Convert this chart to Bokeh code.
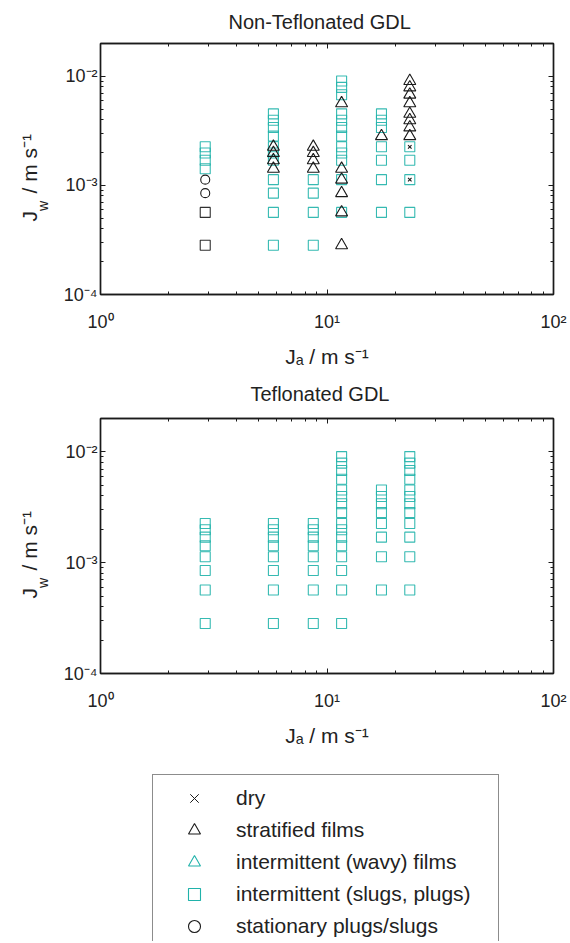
from bokeh.plotting import figure
from bokeh.models import (Range1d, LogAxis, FixedTicker, Legend, LegendItem, Title,
                          CustomJSTickFormatter)
from bokeh.layouts import column
from bokeh.embed import file_html
from bokeh.resources import INLINE

# ---------------- data ----------------
# Non-Teflonated GDL
nt_slug_ja = [2.9, 2.9, 2.9, 2.9,
              5.8, 5.8, 5.8, 5.8, 5.8, 5.8, 5.8, 5.8, 5.8, 5.8, 5.8,
              8.7, 8.7, 8.7, 8.7,
              11.6, 11.6, 11.6, 11.6, 11.6, 11.6, 11.6, 11.6, 11.6, 11.6, 11.6, 11.6,
              17.4, 17.4, 17.4, 17.4, 17.4, 17.4, 17.4,
              23.2, 23.2, 23.2, 23.2]
nt_slug_jw = [1.42e-3, 1.70e-3, 1.98e-3, 2.26e-3,
              2.83e-4, 5.66e-4, 8.49e-4, 1.13e-3, 1.70e-3, 1.98e-3, 2.26e-3, 2.83e-3, 3.40e-3, 3.96e-3, 4.53e-3,
              2.83e-4, 5.66e-4, 8.49e-4, 1.13e-3,
              5.66e-4, 1.13e-3, 1.70e-3, 1.98e-3, 2.26e-3, 2.83e-3, 3.40e-3, 3.96e-3, 4.53e-3, 6.79e-3, 7.92e-3, 9.06e-3,
              5.66e-4, 1.13e-3, 1.70e-3, 2.26e-3, 3.40e-3, 3.96e-3, 4.53e-3,
              5.66e-4, 1.13e-3, 1.70e-3, 2.26e-3]

nt_strat_ja = [5.8, 5.8, 5.8, 5.8,
               8.7, 8.7, 8.7, 8.7,
               11.6, 11.6, 11.6, 11.6, 11.6, 11.6,
               17.4,
               23.2, 23.2, 23.2, 23.2, 23.2, 23.2, 23.2, 23.2]
nt_strat_jw = [1.42e-3, 1.70e-3, 1.98e-3, 2.26e-3,
               1.42e-3, 1.70e-3, 1.98e-3, 2.26e-3,
               2.83e-4, 5.66e-4, 8.49e-4, 1.13e-3, 1.42e-3, 5.66e-3,
               2.83e-3,
               2.83e-3, 3.40e-3, 3.96e-3, 4.53e-3, 5.66e-3, 6.79e-3, 7.92e-3, 9.06e-3]

nt_dry_ja = [23.2, 23.2]
nt_dry_jw = [2.26e-3, 1.13e-3]

nt_stat_ja = [2.9, 2.9]
nt_stat_jw = [8.49e-4, 1.13e-3]

nt_black_sq_ja = [2.9, 2.9]
nt_black_sq_jw = [2.83e-4, 5.66e-4]

# Teflonated GDL
t_slug_ja = [2.9, 2.9, 2.9, 2.9, 2.9, 2.9, 2.9, 2.9,
             5.8, 5.8, 5.8, 5.8, 5.8, 5.8, 5.8, 5.8,
             8.7, 8.7, 8.7, 8.7, 8.7, 8.7, 8.7, 8.7,
             11.6, 11.6, 11.6, 11.6, 11.6, 11.6, 11.6, 11.6,
             11.6, 11.6, 11.6, 11.6, 11.6, 11.6, 11.6, 11.6,
             17.4, 17.4, 17.4, 17.4, 17.4, 17.4, 17.4, 17.4,
             23.2, 23.2, 23.2, 23.2, 23.2, 23.2, 23.2, 23.2, 23.2, 23.2, 23.2, 23.2]
t_slug_jw = [2.83e-4, 5.66e-4, 8.49e-4, 1.13e-3, 1.42e-3, 1.70e-3, 1.98e-3, 2.26e-3,
             2.83e-4, 5.66e-4, 8.49e-4, 1.13e-3, 1.42e-3, 1.70e-3, 1.98e-3, 2.26e-3,
             2.83e-4, 5.66e-4, 8.49e-4, 1.13e-3, 1.42e-3, 1.70e-3, 1.98e-3, 2.26e-3,
             2.83e-4, 5.66e-4, 8.49e-4, 1.13e-3, 1.42e-3, 1.70e-3, 1.98e-3, 2.26e-3,
             2.83e-3, 3.40e-3, 3.96e-3, 4.53e-3, 5.66e-3, 6.79e-3, 7.92e-3, 9.06e-3,
             5.66e-4, 1.13e-3, 1.70e-3, 2.26e-3, 2.83e-3, 3.40e-3, 3.96e-3, 4.53e-3,
             5.66e-4, 1.13e-3, 1.70e-3, 2.26e-3, 2.83e-3, 3.40e-3, 3.96e-3, 4.53e-3,
             5.66e-3, 6.79e-3, 7.92e-3, 9.06e-3]

x_ticks = [1, 10, 100]
x_minor = [2, 3, 4, 5, 6, 7, 8, 9, 20, 30, 40, 50, 60, 70, 80, 90]
x_tick_labels = ["10\u2070", "10\u00b9", "10\u00b2"]
y_ticks = [1e-4, 1e-3, 1e-2]
y_minor = [2e-4, 3e-4, 4e-4, 5e-4, 6e-4, 7e-4, 8e-4, 9e-4,
           2e-3, 3e-3, 4e-3, 5e-3, 6e-3, 7e-3, 8e-3, 9e-3, 2e-2]
y_tick_labels = ["10\u207b\u2074", "10\u207b\u00b3", "10\u207b\u00b2"]

legend_labels = ["dry", "stratified films", "intermittent (wavy) films",
                 "intermittent (slugs, plugs)", "stationary plugs/slugs"]
titles = ["Non-Teflonated GDL", "Teflonated GDL"]
x_label = "J\u2090 / m s\u207b\u00b9"
y_label_main = "J\u00a0\u00a0\u00a0/ m s\u207b\u00b9"
y_label_sub = "w"

# ---------------- style ----------------
FONT = "Liberation Sans"
CYAN = "#20b2aa"
BLACK = "#1a1a1a"
TXT = "#222222"
NBSP = "\u00a0"

FMT_CODE = """
for (let i = 0; i < ticks_list.length; i++) {
    if (Math.abs(Math.log10(ticks_list[i]) - Math.log10(tick)) < 1e-6) { return labels[i]; }
}
return "";
"""


def style_axis(ax, xdir, show_labels):
    ax.ticker = FixedTicker(ticks=x_ticks if xdir else y_ticks,
                            minor_ticks=x_minor if xdir else y_minor)
    ax.formatter = CustomJSTickFormatter(
        args=dict(ticks_list=x_ticks if xdir else y_ticks,
                  labels=x_tick_labels if xdir else y_tick_labels),
        code=FMT_CODE)
    ax.axis_line_color = BLACK
    ax.axis_line_width = 1.4
    ax.major_tick_line_color = BLACK
    ax.minor_tick_line_color = BLACK
    ax.major_tick_in = 5
    ax.major_tick_out = 0
    ax.minor_tick_in = 3
    ax.minor_tick_out = 0
    ax.major_label_text_font = FONT
    ax.major_label_text_color = TXT
    ax.axis_label_text_font = FONT
    ax.axis_label_text_font_style = "normal"
    ax.axis_label_text_color = TXT
    if show_labels:
        ax.major_label_text_font_size = "18px"
        ax.major_label_standoff = 17 if xdir else 3
    else:
        ax.major_label_text_font_size = "1px"
        ax.major_label_text_alpha = 0
        ax.major_label_standoff = 0


def make_panel(height, border_top, border_bottom, title, title_offset, title_standoff):
    p = figure(width=570, height=height, x_axis_type="log", y_axis_type="log",
               x_range=Range1d(1, 100), y_range=Range1d(1e-4, 2e-2),
               min_border_left=100, min_border_right=17,
               min_border_top=border_top, min_border_bottom=border_bottom,
               toolbar_location=None, output_backend="svg")
    p.xgrid.visible = False
    p.ygrid.visible = False
    p.outline_line_color = BLACK
    p.outline_line_width = 1.4
    p.background_fill_color = "white"
    p.border_fill_color = "white"
    bottom_ax = p.below[0]
    left_ax = p.left[0]
    style_axis(bottom_ax, True, True)
    style_axis(left_ax, False, True)
    top_ax = LogAxis()
    right_ax = LogAxis()
    p.add_layout(top_ax, "above")
    p.add_layout(right_ax, "right")
    style_axis(top_ax, True, False)
    style_axis(right_ax, False, False)

    p.title = Title(text=title, align="left", offset=title_offset,
                    vertical_align="top", standoff=title_standoff,
                    text_font=FONT, text_font_size="20px", text_font_style="normal",
                    text_color=TXT)

    # x axis label
    bottom_ax.axis_label = x_label
    bottom_ax.axis_label_text_font_size = "21px"
    bottom_ax.axis_label_standoff = 10

    # y axis label: subscript as the axis label, main text as a side title
    left_ax.axis_label = y_label_sub + NBSP * 19
    left_ax.axis_label_text_font_size = "14px"
    left_ax.axis_label_standoff = 10
    p.add_layout(Title(text=y_label_main + NBSP * 3, align="center", vertical_align="bottom",
                       standoff=-18, text_font=FONT, text_font_size="21px",
                       text_font_style="normal", text_color=TXT), "left")
    return p


def squares(p, xs, ys, color):
    return p.scatter(xs, ys, marker="square", size=10, fill_alpha=0,
                     line_color=color, line_width=1.1, line_alpha=0.9)


# ---------------- top panel ----------------
p1 = make_panel(370, 43, 72, titles[0], 128, 18)
squares(p1, nt_slug_ja, nt_slug_jw, CYAN)
squares(p1, nt_black_sq_ja, nt_black_sq_jw, BLACK)
p1.scatter(nt_stat_ja, nt_stat_jw, marker="circle", size=9, fill_alpha=0,
           line_color=BLACK, line_width=1.1)
p1.scatter(nt_strat_ja, nt_strat_jw, marker="triangle", size=12, fill_alpha=0,
           line_color=BLACK, line_width=1.1)
p1.scatter(nt_dry_ja, nt_dry_jw, marker="x", size=5, line_color=BLACK, line_width=1.1)

# ---------------- bottom panel ----------------
p2 = make_panel(382, 48, 79, titles[1], 150, 23)
squares(p2, t_slug_ja, t_slug_jw, CYAN)

# ---------------- legend ----------------
pl = figure(width=570, height=189, x_range=(0, 1), y_range=(0, 1),
            x_axis_location=None, y_axis_location=None,
            min_border_left=100, min_border_right=17, min_border_top=0, min_border_bottom=0,
            toolbar_location=None, output_backend="svg")
pl.xgrid.visible = False
pl.ygrid.visible = False
pl.outline_line_color = None
out = dict(x=[5], y=[5])   # outside the (hidden) range: only the legend shows them
r_dry = pl.scatter(out["x"], out["y"], marker="x", line_color=BLACK, line_width=1.0)
r_strat = pl.scatter(out["x"], out["y"], marker="triangle", fill_alpha=0, line_color=BLACK, line_width=1.1)
r_wavy = pl.scatter(out["x"], out["y"], marker="triangle", fill_alpha=0, line_color=CYAN, line_width=1.1)
r_slug = pl.scatter(out["x"], out["y"], marker="square", fill_alpha=0, line_color=CYAN, line_width=1.1)
r_stat = pl.scatter(out["x"], out["y"], marker="circle", fill_alpha=0, line_color=BLACK, line_width=1.1)
items = [LegendItem(label=lab, renderers=[r]) for lab, r in
         zip(legend_labels, [r_dry, r_strat, r_wavy, r_slug, r_stat])]
leg = Legend(items=items, location=(52, -9), padding=8, spacing=2,
             glyph_width=66, glyph_height=30, label_standoff=9, label_width=254,
             label_height=30, margin=0,
             label_text_font=FONT, label_text_font_size="21px", label_text_color=TXT,
             border_line_color=BLACK, border_line_width=1,
             background_fill_color="white", background_fill_alpha=1)
pl.add_layout(leg)

layout = column(p1, p2, pl)
open("out.html", "w").write(file_html(layout, INLINE))
